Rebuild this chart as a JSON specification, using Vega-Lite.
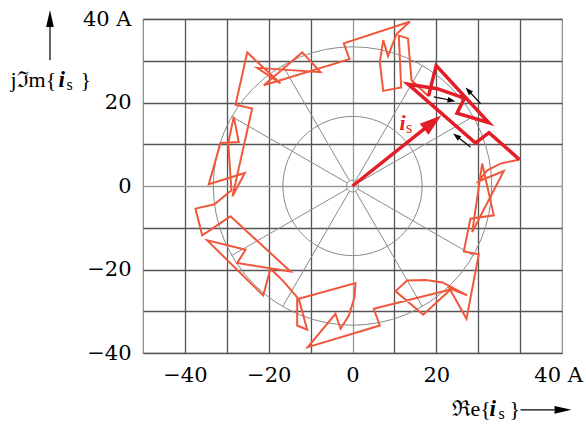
{
  "$schema": "https://vega.github.io/schema/vega-lite/v6.json",
  "width": 419,
  "height": 334,
  "autosize": "none",
  "padding": {"left": 143, "top": 19, "right": 24, "bottom": 71},
  "background": "white",
  "config": {"view": {"stroke": "#888", "strokeWidth": 1.2}},
  "datasets": {
    "thin": [
      {"k": 0, "x": 18.14, "y": 21.51}, {"k": 1, "x": 14.08, "y": 25.35}, {"k": 2, "x": 13.25, "y": 35.35},
      {"k": 3, "x": 11.05, "y": 36.02}, {"k": 4, "x": 11.62, "y": 23.6}, {"k": 5, "x": 7.33, "y": 22.78},
      {"k": 6, "x": 6.52, "y": 29.66}, {"k": 7, "x": 7.33, "y": 34.94}, {"k": 8, "x": 8.47, "y": 31.1},
      {"k": 9, "x": 10.5, "y": 36.38}, {"k": 10, "x": 13.68, "y": 39.33}, {"k": 11, "x": -2.08, "y": 34.15},
      {"k": 12, "x": -0.72, "y": 30.38}, {"k": 13, "x": -21.17, "y": 24.15}, {"k": 14, "x": -12.0, "y": 31.99},
      {"k": 15, "x": -7.64, "y": 27.27}, {"k": 16, "x": -22.74, "y": 28.3}, {"k": 17, "x": -17.18, "y": 24.56},
      {"k": 18, "x": -25.13, "y": 31.99}, {"k": 19, "x": -27.92, "y": 19.47}, {"k": 20, "x": -23.94, "y": 18.56},
      {"k": 21, "x": -28.64, "y": -2.47}, {"k": 22, "x": -25.7, "y": 3.12}, {"k": 23, "x": -34.3, "y": 0.41},
      {"k": 24, "x": -31.5, "y": 10.31}, {"k": 25, "x": -27.14, "y": 10.55}, {"k": 26, "x": -28.33, "y": 16.55},
      {"k": 27, "x": -29.67, "y": 10.31}, {"k": 28, "x": -28.88, "y": -1.03}, {"k": 29, "x": -32.94, "y": -4.39},
      {"k": 30, "x": -37.47, "y": -5.42}, {"k": 31, "x": -35.87, "y": -11.82}, {"k": 32, "x": -29.12, "y": -7.27},
      {"k": 33, "x": -14.8, "y": -20.46}, {"k": 34, "x": -27.52, "y": -18.47}, {"k": 35, "x": -25.54, "y": -15.25},
      {"k": 36, "x": -34.68, "y": -13.02}, {"k": 37, "x": -21.31, "y": -26.21}, {"k": 38, "x": -19.57, "y": -19.81},
      {"k": 39, "x": -16.47, "y": -22.85}, {"k": 40, "x": -13.2, "y": -26.69}, {"k": 41, "x": -13.2, "y": -33.41},
      {"k": 42, "x": -10.81, "y": -34.44}, {"k": 43, "x": -12.82, "y": -27.0}, {"k": 44, "x": 0.72, "y": -23.26},
      {"k": 45, "x": 0.48, "y": -26.69}, {"k": 46, "x": -0.88, "y": -31.01}, {"k": 47, "x": -2.86, "y": -34.2},
      {"k": 48, "x": -4.06, "y": -30.6}, {"k": 49, "x": -10.67, "y": -38.61}, {"k": 50, "x": 6.52, "y": -33.41},
      {"k": 51, "x": 5.08, "y": -29.4}, {"k": 52, "x": 23.39, "y": -24.77}, {"k": 53, "x": 16.87, "y": -30.84},
      {"k": 54, "x": 10.26, "y": -25.18}, {"k": 55, "x": 13.05, "y": -22.61}, {"k": 56, "x": 17.42, "y": -22.49},
      {"k": 57, "x": 21.48, "y": -23.09}, {"k": 58, "x": 27.37, "y": -26.21}, {"k": 59, "x": 23.15, "y": -24.53},
      {"k": 60, "x": 27.21, "y": -31.8}, {"k": 61, "x": 30.14, "y": -16.38}, {"k": 62, "x": 26.56, "y": -15.66},
      {"k": 63, "x": 28.16, "y": -7.82}, {"k": 64, "x": 33.72, "y": -7.03}, {"k": 65, "x": 30.95, "y": 5.37},
      {"k": 66, "x": 28.57, "y": -11.03}, {"k": 67, "x": 36.11, "y": 3.6}, {"k": 68, "x": 30.07, "y": 1.13},
      {"k": 69, "x": 32.15, "y": 3.76}, {"k": 70, "x": 35.32, "y": 5.37}, {"k": 71, "x": 39.86, "y": 6.33}
    ],
    "bold": [
      {"k": 0, "x": 39.86, "y": 6.33}, {"k": 1, "x": 32.58, "y": 12.76}, {"k": 2, "x": 29.36, "y": 10.31},
      {"k": 3, "x": 13.25, "y": 24.39}, {"k": 4, "x": 20.21, "y": 23.31}, {"k": 5, "x": 26.73, "y": 21.03},
      {"k": 6, "x": 24.94, "y": 17.43}, {"k": 7, "x": 32.53, "y": 15.16}, {"k": 8, "x": 19.98, "y": 28.82},
      {"k": 9, "x": 18.14, "y": 21.51}
    ],
    "spokes": [
      {"x": 1.3, "y": 0.75, "x2": 28.84, "y2": 16.65}, {"x": 0.75, "y": 1.3, "x2": 16.65, "y2": 28.84},
      {"x": -0.75, "y": 1.3, "x2": -16.65, "y2": 28.84}, {"x": -1.3, "y": 0.75, "x2": -28.84, "y2": 16.65},
      {"x": -1.3, "y": -0.75, "x2": -28.84, "y2": -16.65}, {"x": -0.75, "y": -1.3, "x2": -16.65, "y2": -28.84},
      {"x": 0.75, "y": -1.3, "x2": 16.65, "y2": -28.84}, {"x": 1.3, "y": -0.75, "x2": 28.84, "y2": -16.65}
    ],
    "xticks": [
      {"x": -48}, {"x": -46}, {"x": -44}, {"x": -42}, {"x": -40}, {"x": -38}, {"x": -36}, {"x": -34}, {"x": -32}, {"x": -30},
      {"x": -28}, {"x": -26}, {"x": -24}, {"x": -22}, {"x": -20}, {"x": -18}, {"x": -16}, {"x": -14}, {"x": -12}, {"x": -10},
      {"x": -8}, {"x": -6}, {"x": -4}, {"x": -2}, {"x": 2}, {"x": 4}, {"x": 6}, {"x": 8}, {"x": 10},
      {"x": 12}, {"x": 14}, {"x": 16}, {"x": 18}, {"x": 20}, {"x": 22}, {"x": 24}, {"x": 26}, {"x": 28}, {"x": 30},
      {"x": 32}, {"x": 34}, {"x": 36}, {"x": 38}, {"x": 40}, {"x": 42}, {"x": 44}, {"x": 46}, {"x": 48}
    ],
    "yticks": [
      {"y": -38}, {"y": -36}, {"y": -34}, {"y": -32}, {"y": -30}, {"y": -28}, {"y": -26}, {"y": -24}, {"y": -22}, {"y": -20},
      {"y": -18}, {"y": -16}, {"y": -14}, {"y": -12}, {"y": -10}, {"y": -8}, {"y": -6}, {"y": -4}, {"y": -2},
      {"y": 2}, {"y": 4}, {"y": 6}, {"y": 8}, {"y": 10}, {"y": 12}, {"y": 14}, {"y": 16}, {"y": 18}, {"y": 20},
      {"y": 22}, {"y": 24}, {"y": 26}, {"y": 28}, {"y": 30}, {"y": 32}, {"y": 34}, {"y": 36}, {"y": 38}
    ],
    "origin": [{"x": 0, "y": 0}],
    "arrows": [
      {"id": "is", "x": 0, "y": 0, "x2": 17.5, "y2": 14.0, "tx": 21.2, "ty": 16.9},
      {"id": "a1", "x": 19.4, "y": 21.34, "x2": 23.17, "y2": 20.6, "tx": 24.58, "ty": 20.31},
      {"id": "a2", "x": 30.55, "y": 19.76, "x2": 27.95, "y2": 22.54, "tx": 26.97, "ty": 23.6},
      {"id": "a3", "x": 28.16, "y": 9.35, "x2": 25.16, "y2": 11.68, "tx": 24.03, "ty": 12.57},
      {"id": "ax", "x": 40.1, "y": -53.62, "x2": 48.21, "y2": -53.62, "tx": 52.27, "ty": -53.62},
      {"id": "ay", "x": -72.2, "y": 30.14, "x2": -72.2, "y2": 38.06, "tx": -72.2, "ty": 42.13}
    ],
    "txt": [
      {"s": "reg", "x": 23.63, "y": -55.0, "t": "ℜe{"},
      {"s": "bi", "x": 32.7, "y": -55.0, "t": "i"},
      {"s": "sub", "x": 34.84, "y": -55.7, "t": "s"},
      {"s": "reg", "x": 37.47, "y": -55.0, "t": "}"},
      {"s": "reg", "x": -81.62, "y": 23.67, "t": "jℑm{"},
      {"s": "bi", "x": -70.17, "y": 23.67, "t": "i"},
      {"s": "sub", "x": -68.26, "y": 22.95, "t": "s"},
      {"s": "reg", "x": -64.92, "y": 23.67, "t": "}"},
      {"s": "redi", "x": 11.22, "y": 13.36, "t": "i"},
      {"s": "reds", "x": 12.77, "y": 12.64, "t": "s"}
    ]
  },
  "encoding": {
    "x": {
      "field": "x", "type": "quantitative",
      "scale": {"domain": [-50, 50], "nice": false, "zero": false},
      "axis": {
        "values": [-40, -30, -20, -10, 0, 10, 20, 30, 40],
        "title": null, "domain": false, "ticks": false, "tickSize": 0,
        "labelPadding": 11, "labelFont": "DejaVu Serif", "labelFontSize": 21, "labelColor": "black",
        "labelOverlap": false, "labelFlush": false,
        "labelExpr": "datum.value == 40 ? '40 A' : (datum.value % 20 != 0 ? '' : (datum.value < 0 ? '−' + abs(datum.value) : '' + datum.value))",
        "labelOffset": {"condition": {"test": "datum.value == 40", "value": 38}, "value": 0},
        "grid": true,
        "gridColor": {"condition": {"test": "datum.value == 0", "value": "#9a9a9a"}, "value": "#555555"},
        "gridWidth": 1.3
      }
    },
    "y": {
      "field": "y", "type": "quantitative",
      "scale": {"domain": [-40, 40], "nice": false, "zero": false},
      "axis": {
        "values": [-40, -30, -20, -10, 0, 10, 20, 30, 40],
        "title": null, "domain": false, "ticks": false, "tickSize": 0,
        "labelPadding": 12, "labelFont": "DejaVu Serif", "labelFontSize": 21, "labelColor": "black",
        "labelOverlap": false, "labelFlush": false,
        "labelExpr": "datum.value == 40 ? '40 A' : (datum.value % 20 != 0 ? '' : (datum.value < 0 ? '−' + abs(datum.value) : '' + datum.value))",
        "grid": true,
        "gridColor": {"condition": {"test": "datum.value == 0", "value": "#9a9a9a"}, "value": "#555555"},
        "gridWidth": 1.3
      }
    }
  },
  "layer": [
    {
      "data": {"values": [{"y": 25}, {"y": -25}]},
      "mark": {"type": "rule", "color": "#333333", "strokeWidth": 1, "strokeDash": [3, 3.5]},
      "encoding": {"x": {"datum": -50, "type": "quantitative"}, "x2": {"datum": 50}}
    },
    {
      "data": {"name": "spokes"},
      "mark": {"type": "rule", "color": "#8a8a8a", "strokeWidth": 1},
      "encoding": {"x2": {"field": "x2"}, "y2": {"field": "y2"}}
    },
    {
      "data": {"name": "origin"},
      "mark": {"type": "point", "shape": "circle", "filled": false, "opacity": 1, "stroke": "#8a8a8a", "strokeWidth": 1, "size": 77506}
    },
    {
      "data": {"name": "origin"},
      "mark": {"type": "point", "shape": "circle", "filled": false, "opacity": 1, "stroke": "#8a8a8a", "strokeWidth": 1, "size": 19377}
    },
    {
      "data": {"name": "origin"},
      "mark": {"type": "point", "shape": "circle", "filled": false, "opacity": 1, "stroke": "#8a8a8a", "strokeWidth": 1, "size": 144}
    },
    {
      "data": {"name": "xticks"},
      "mark": {"type": "tick", "orient": "vertical", "size": 8, "thickness": 1.2, "color": "#444444", "opacity": 1},
      "encoding": {"y": {"datum": 0, "type": "quantitative"}}
    },
    {
      "data": {"name": "yticks"},
      "mark": {"type": "tick", "orient": "horizontal", "size": 8, "thickness": 1.2, "color": "#444444", "opacity": 1},
      "encoding": {"x": {"datum": 0, "type": "quantitative"}}
    },
    {
      "data": {"name": "thin"},
      "mark": {"type": "line", "color": "#f0583c", "strokeWidth": 2},
      "encoding": {"order": {"field": "k", "type": "quantitative"}}
    },
    {
      "data": {"name": "bold"},
      "mark": {"type": "line", "color": "#e41e26", "strokeWidth": 3.5},
      "encoding": {"order": {"field": "k", "type": "quantitative"}}
    },
    {
      "data": {"name": "arrows"},
      "transform": [{"filter": "datum.id == 'is'"}],
      "mark": {"type": "rule", "color": "#e41e26", "strokeWidth": 3.5},
      "encoding": {"x2": {"field": "x2"}, "y2": {"field": "y2"}}
    },
    {
      "data": {"name": "arrows"},
      "transform": [{"filter": "datum.id == 'a1' || datum.id == 'a2' || datum.id == 'a3' || datum.id == 'ax' || datum.id == 'ay'"}],
      "mark": {"type": "rule", "color": "black", "strokeWidth": 1.2},
      "encoding": {"x2": {"field": "x2"}, "y2": {"field": "y2"}}
    },
    {
      "data": {"name": "arrows"},
      "transform": [{"filter": "datum.id == 'is'"}],
      "mark": {"type": "point", "shape": "M0,0L0.64,2L-0.64,2Z", "filled": true, "opacity": 1, "color": "#e41e26", "size": 484, "angle": 51.5},
      "encoding": {"x": {"field": "tx", "type": "quantitative"}, "y": {"field": "ty", "type": "quantitative"}}
    },
    {
      "data": {"name": "arrows"},
      "transform": [{"filter": "datum.id == 'a1'"}],
      "mark": {"type": "point", "shape": "M0,0L0.7,2L-0.7,2Z", "filled": true, "opacity": 1, "color": "black", "size": 64, "angle": 101.2},
      "encoding": {"x": {"field": "tx", "type": "quantitative"}, "y": {"field": "ty", "type": "quantitative"}}
    },
    {
      "data": {"name": "arrows"},
      "transform": [{"filter": "datum.id == 'a2'"}],
      "mark": {"type": "point", "shape": "M0,0L0.7,2L-0.7,2Z", "filled": true, "opacity": 1, "color": "black", "size": 64, "angle": -43.2},
      "encoding": {"x": {"field": "tx", "type": "quantitative"}, "y": {"field": "ty", "type": "quantitative"}}
    },
    {
      "data": {"name": "arrows"},
      "transform": [{"filter": "datum.id == 'a3'"}],
      "mark": {"type": "point", "shape": "M0,0L0.7,2L-0.7,2Z", "filled": true, "opacity": 1, "color": "black", "size": 64, "angle": -52.2},
      "encoding": {"x": {"field": "tx", "type": "quantitative"}, "y": {"field": "ty", "type": "quantitative"}}
    },
    {
      "data": {"name": "arrows"},
      "transform": [{"filter": "datum.id == 'ax'"}],
      "mark": {"type": "point", "shape": "M0,0L0.45,2L-0.45,2Z", "filled": true, "opacity": 1, "color": "black", "size": 289, "angle": 90},
      "encoding": {"x": {"field": "tx", "type": "quantitative"}, "y": {"field": "ty", "type": "quantitative"}}
    },
    {
      "data": {"name": "arrows"},
      "transform": [{"filter": "datum.id == 'ay'"}],
      "mark": {"type": "point", "shape": "M0,0L0.45,2L-0.45,2Z", "filled": true, "opacity": 1, "color": "black", "size": 289, "angle": 0},
      "encoding": {"x": {"field": "tx", "type": "quantitative"}, "y": {"field": "ty", "type": "quantitative"}}
    },
    {
      "data": {"name": "txt"},
      "transform": [{"filter": "datum.s == 'reg'"}],
      "mark": {"type": "text", "align": "left", "baseline": "alphabetic", "font": "Liberation Serif", "fontSize": 22, "color": "black"},
      "encoding": {"text": {"field": "t"}}
    },
    {
      "data": {"name": "txt"},
      "transform": [{"filter": "datum.s == 'bi'"}],
      "mark": {"type": "text", "align": "left", "baseline": "alphabetic", "font": "Liberation Serif", "fontSize": 23, "fontStyle": "italic", "fontWeight": "bold", "color": "black"},
      "encoding": {"text": {"field": "t"}}
    },
    {
      "data": {"name": "txt"},
      "transform": [{"filter": "datum.s == 'sub'"}],
      "mark": {"type": "text", "align": "left", "baseline": "alphabetic", "font": "Liberation Serif", "fontSize": 16, "color": "black"},
      "encoding": {"text": {"field": "t"}}
    },
    {
      "data": {"name": "txt"},
      "transform": [{"filter": "datum.s == 'redi'"}],
      "mark": {"type": "text", "align": "left", "baseline": "alphabetic", "font": "Liberation Serif", "fontSize": 22, "fontStyle": "italic", "fontWeight": "bold", "color": "#e41e26"},
      "encoding": {"text": {"field": "t"}}
    },
    {
      "data": {"name": "txt"},
      "transform": [{"filter": "datum.s == 'reds'"}],
      "mark": {"type": "text", "align": "left", "baseline": "alphabetic", "font": "Liberation Serif", "fontSize": 16, "color": "#e41e26"},
      "encoding": {"text": {"field": "t"}}
    }
  ]
}
